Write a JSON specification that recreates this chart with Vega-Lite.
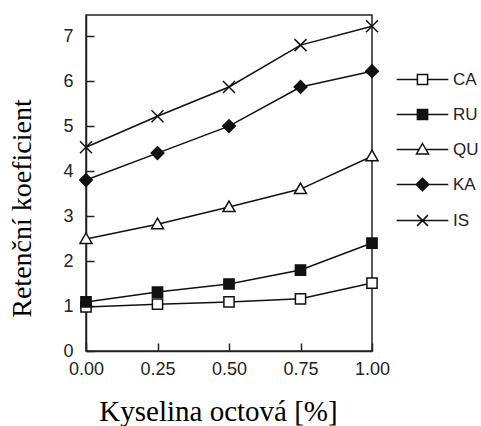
{
  "$schema": "https://vega.github.io/schema/vega-lite/v6.json",
  "autosize": "none",
  "width": 286,
  "height": 336,
  "padding": {"left": 86, "top": 15, "right": 109, "bottom": 75},
  "background": "white",
  "config": {
    "view": {"stroke": "#222", "strokeWidth": 1.5},
    "axis": {
      "grid": false,
      "domainColor": "#222",
      "domainWidth": 1.5,
      "tickColor": "#222",
      "tickWidth": 1.5,
      "tickSize": -8,
      "labelFont": "Liberation Sans",
      "labelFontSize": 18,
      "labelColor": "#222",
      "titleFont": "Liberation Serif",
      "titleFontWeight": "normal",
      "titleColor": "#000"
    }
  },
  "data": {
    "values": [
      {"x": 0, "y": 0.98, "series": "CA"},
      {"x": 0.25, "y": 1.04, "series": "CA"},
      {"x": 0.5, "y": 1.09, "series": "CA"},
      {"x": 0.75, "y": 1.16, "series": "CA"},
      {"x": 1, "y": 1.51, "series": "CA"},
      {"x": 0, "y": 1.09, "series": "RU"},
      {"x": 0.25, "y": 1.31, "series": "RU"},
      {"x": 0.5, "y": 1.49, "series": "RU"},
      {"x": 0.75, "y": 1.8, "series": "RU"},
      {"x": 1, "y": 2.4, "series": "RU"},
      {"x": 0, "y": 2.49, "series": "QU"},
      {"x": 0.25, "y": 2.82, "series": "QU"},
      {"x": 0.5, "y": 3.2, "series": "QU"},
      {"x": 0.75, "y": 3.6, "series": "QU"},
      {"x": 1, "y": 4.33, "series": "QU"},
      {"x": 0, "y": 3.8, "series": "KA"},
      {"x": 0.25, "y": 4.4, "series": "KA"},
      {"x": 0.5, "y": 5.0, "series": "KA"},
      {"x": 0.75, "y": 5.87, "series": "KA"},
      {"x": 1, "y": 6.22, "series": "KA"},
      {"x": 0, "y": 4.53, "series": "IS"},
      {"x": 0.25, "y": 5.22, "series": "IS"},
      {"x": 0.5, "y": 5.87, "series": "IS"},
      {"x": 0.75, "y": 6.8, "series": "IS"},
      {"x": 1, "y": 7.22, "series": "IS"}
    ]
  },
  "encoding": {
    "x": {
      "field": "x", "type": "quantitative",
      "scale": {"domain": [0, 1], "nice": false, "zero": false},
      "axis": {
        "values": [0, 0.25, 0.5, 0.75, 1],
        "format": ".2f",
        "labelFlush": false,
        "labelPadding": 17,
        "title": "Kyselina octová [%]",
        "titleFontSize": 29,
        "titleBaseline": "alphabetic",
        "titleAlign": "center",
        "titleX": 132,
        "titleY": 69
      }
    },
    "y": {
      "field": "y", "type": "quantitative",
      "scale": {"domain": [0, 7.47], "nice": false},
      "axis": {
        "values": [0, 1, 2, 3, 4, 5, 6, 7],
        "labelPadding": 21,
        "title": "Retenční koeficient",
        "titleFontSize": 28,
        "titleBaseline": "alphabetic",
        "titleAlign": "center",
        "titleAngle": -90,
        "titleX": -56,
        "titleY": 193
      }
    }
  },
  "layer": [
    {
      "mark": {"type": "line", "color": "#111", "strokeWidth": 1.5},
      "encoding": {"detail": {"field": "series"}}
    },
    {
      "mark": {"type": "point", "filled": true, "stroke": "#111", "strokeWidth": 1.5, "size": 144, "opacity": 1},
      "encoding": {
        "shape": {
          "field": "series", "type": "nominal",
          "scale": {
            "domain": ["CA", "RU", "QU", "KA", "IS"],
            "range": [
              "M-0.85,-0.85H0.85V0.85H-0.85Z",
              "M-0.85,-0.85H0.85V0.85H-0.85Z",
              "M0,-1L1,0.75H-1Z",
              "M-1.05,0L0,-1.05L1.05,0L0,1.05Z",
              "M-1,-1L1,1M-1,1L1,-1"
            ]
          },
          "legend": null
        },
        "fill": {
          "field": "series", "type": "nominal",
          "scale": {"domain": ["CA", "RU", "QU", "KA", "IS"], "range": ["white", "#111", "white", "#111", "white"]},
          "legend": null
        }
      }
    },
    {
      "transform": [{"filter": {"field": "y", "lt": 0}}],
      "mark": {"type": "point", "filled": true, "stroke": "#111", "strokeWidth": 1.5, "size": 144, "opacity": 1},
      "encoding": {
        "shape": {
          "field": "series", "type": "nominal",
          "scale": {
            "domain": ["CA", "RU", "QU", "KA", "IS"],
            "range": [
              "M-4.3,0H-0.85M0.85,0H4.3M-0.85,-0.85H0.85V0.85H-0.85Z",
              "M-4.3,0H4.3M-0.85,-0.85H0.85V0.85H-0.85Z",
              "M-4.3,0H-0.57M0.57,0H4.3M0,-1L1,0.75H-1Z",
              "M-4.3,0H4.3M-1.05,0L0,-1.05L1.05,0L0,1.05Z",
              "M-4.3,0H4.3M-0.9,-0.9L0.9,0.9M-0.9,0.9L0.9,-0.9"
            ]
          },
          "legend": {
            "title": null,
            "orient": "none",
            "legendX": 328,
            "legendY": 56,
            "padding": 0,
            "symbolSize": 144,
            "symbolStrokeWidth": 1.5,
            "symbolStrokeColor": "#111",
            "symbolOpacity": 1,
            "labelFont": "Liberation Sans",
            "labelFontSize": 17,
            "labelColor": "#222",
            "labelOffset": 22,
            "rowPadding": 17,
            "encode": {"symbols": {"update": {"stroke": {"value": "#111"}, "strokeWidth": {"value": 1.5}, "opacity": {"value": 1}}}}
          }
        },
        "fill": {
          "field": "series", "type": "nominal",
          "scale": {"domain": ["CA", "RU", "QU", "KA", "IS"], "range": ["white", "#111", "white", "#111", "white"]},
          "legend": {
            "title": null,
            "orient": "none",
            "legendX": 328,
            "legendY": 56,
            "padding": 0,
            "symbolSize": 144,
            "symbolStrokeWidth": 1.5,
            "symbolStrokeColor": "#111",
            "symbolOpacity": 1,
            "labelFont": "Liberation Sans",
            "labelFontSize": 17,
            "labelColor": "#222",
            "labelOffset": 22,
            "rowPadding": 17,
            "encode": {"symbols": {"update": {"stroke": {"value": "#111"}, "strokeWidth": {"value": 1.5}, "opacity": {"value": 1}}}}
          }
        }
      }
    }
  ],
  "resolve": {"scale": {"shape": "independent", "fill": "independent"}}
}
